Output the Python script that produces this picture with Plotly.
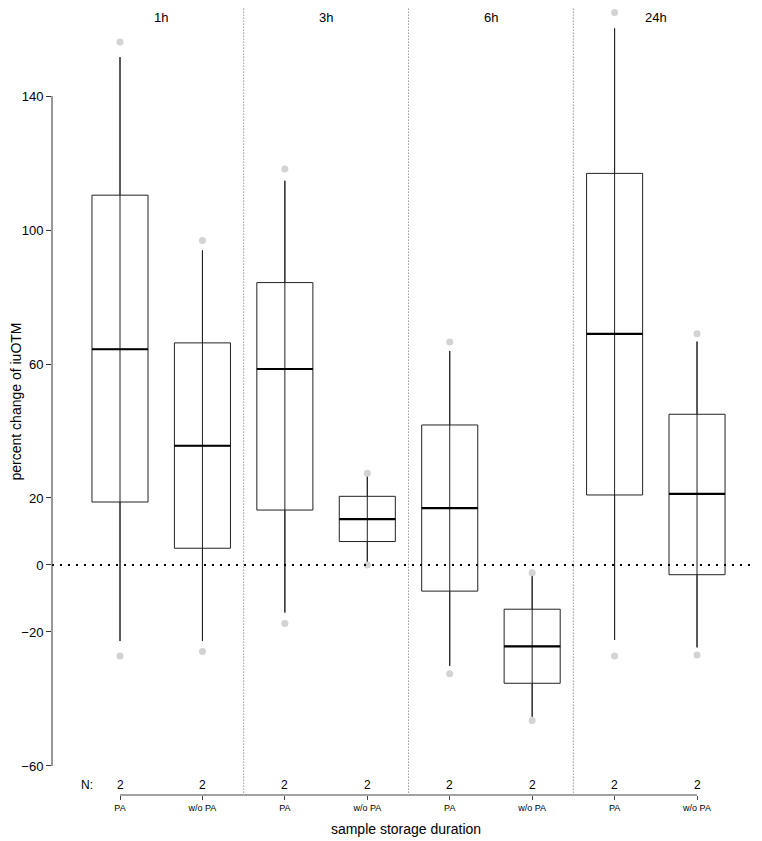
import plotly.graph_objects as go

groups = ["1h", "3h", "6h", "24h"]
conditions = ["PA", "w/o PA"]
counts = [2, 2, 2, 2, 2, 2, 2, 2]

# box statistics, order: 1h PA, 1h w/o PA, 3h PA, 3h w/o PA, 6h PA, 6h w/o PA, 24h PA, 24h w/o PA
q1 = [18.8, 5.0, 16.4, 7.0, -7.8, -35.3, 20.9, -2.9]
median = [64.4, 35.6, 58.5, 13.7, 17.0, -24.3, 69.0, 21.2]
q3 = [110.4, 66.3, 84.3, 20.5, 41.8, -13.2, 116.9, 45.0]
lower = [-22.7, -22.7, -14.2, 0.6, -30.1, -45.3, -22.4, -24.6]
upper = [151.6, 93.9, 114.7, 26.6, 63.9, -3.3, 160.2, 66.7]
pt_max = [156.1, 96.9, 118.2, 27.4, 66.6, -2.3, 164.9, 69.0]
pt_min = [-27.2, -25.8, -17.5, 0.0, -32.5, -46.4, -27.2, -26.9]

FONT = "Liberation Sans, Arial, sans-serif"
pos = list(range(1, len(q1) + 1))
labels = [c for g in groups for c in conditions]
half = 0.34

fig = go.Figure()

# whisker line through the whole box
wx, wy = [], []
for p, lo, hi in zip(pos, lower, upper):
    wx += [p, p, None]
    wy += [lo, hi, None]
fig.add_trace(go.Scatter(x=wx, y=wy, mode="lines", line=dict(color="#222", width=1),
                         hoverinfo="skip", showlegend=False))

fig.add_trace(go.Box(
    x=pos, q1=q1, median=median, q3=q3, lowerfence=lower, upperfence=upper,
    width=2 * half, whiskerwidth=0, boxpoints=False,
    line=dict(color="#222", width=1), fillcolor="rgba(0,0,0,0)",
    showlegend=False, hoverinfo="skip",
))

# thick medians
mx, my = [], []
for p, m in zip(pos, median):
    mx += [p - half, p + half, None]
    my += [m, m, None]
fig.add_trace(go.Scatter(x=mx, y=my, mode="lines", line=dict(color="black", width=2.2),
                         hoverinfo="skip", showlegend=False))

# raw points
fig.add_trace(go.Scatter(x=pos + pos, y=pt_max + pt_min, mode="markers",
                         marker=dict(color="#d3d3d3", size=7), hoverinfo="skip",
                         showlegend=False))

# zero line
fig.add_shape(type="line", xref="paper", x0=0, x1=1, yref="y", y0=0, y1=0,
              line=dict(color="black", width=2, dash="2px,6px"))
# group dividers
for i in range(1, len(groups)):
    xd = 2 * i + 0.5
    fig.add_shape(type="line", xref="x", x0=xd, x1=xd, yref="paper", y0=0.003, y1=1,
                  line=dict(color="#666", width=1, dash="1px,2px"))
# R style axis lines
fig.add_shape(type="line", xref="paper", x0=0, x1=0, yref="y", y0=-60, y1=140,
              line=dict(color="#333", width=1))
fig.add_shape(type="line", xref="x", x0=pos[0], x1=pos[-1], yref="paper", y0=0, y1=0,
              line=dict(color="#444", width=1))

for i, g in enumerate(groups):
    fig.add_annotation(x=2 * i + 1.5, xref="x", y=1, yref="paper", yanchor="top",
                       yshift=0, text=g, showarrow=False,
                       font=dict(family=FONT, size=13, color="black"))
for p, n in zip(pos, counts):
    fig.add_annotation(x=p, xref="x", y=0, yref="paper", yanchor="bottom", yshift=1,
                       text=str(n), showarrow=False,
                       font=dict(family=FONT, size=12, color="black"))
fig.add_annotation(x=0.6, xref="x", y=0, yref="paper", yanchor="bottom", yshift=1,
                   text="N:", showarrow=False, font=dict(family=FONT, size=12, color="black"))

# page body has an 8px margin, margins below compensate for it
fig.update_layout(
    width=762, height=841,
    margin=dict(l=44, r=10, t=0, b=54),
    paper_bgcolor="white", plot_bgcolor="white",
    font=dict(family=FONT, color="black"),
)
fig.update_xaxes(
    range=[0.175, 8.764], tickvals=pos, ticktext=labels,
    ticks="outside", ticklen=4, tickcolor="#444", showline=False,
    showgrid=False, zeroline=False, tickfont=dict(size=9),
    title=dict(text="sample storage duration", font=dict(size=14), standoff=12),
    automargin=False,
)
fig.update_yaxes(
    range=[-68.66, 166.27], tickvals=[-60, -20, 0, 20, 60, 100, 140],
    ticks="outside", ticklen=5, tickcolor="#333", showline=False,
    showgrid=False, zeroline=False, tickfont=dict(size=13),
    title=dict(text="percent change of iuOTM", font=dict(size=14), standoff=0),
    automargin=False,
)

fig.write_html("out.html")
